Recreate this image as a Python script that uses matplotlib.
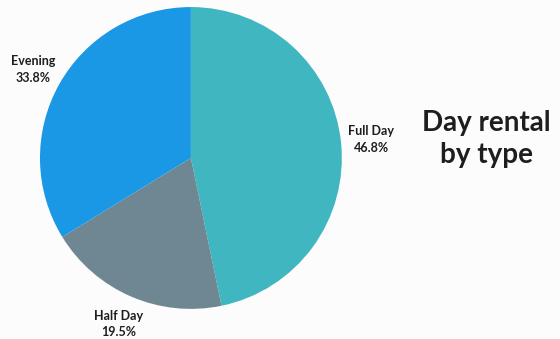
import matplotlib.pyplot as plt

# data
categories = ["Full Day", "Half Day", "Evening"]
shares = [46.8, 19.5, 33.8]
colors = ["#40b6c0", "#6f8793", "#1a98e6"]
title = "Day rental\nby type"

plt.rcParams['font.family'] = ['Lato', 'DejaVu Sans']

fig = plt.figure(figsize=(5.6, 3.39), dpi=100)
fig.patch.set_facecolor('#fbfcfb')

ax = fig.add_axes([0.0714, 0.0885, 0.539, 0.891])
labels = [f"{c}\n{v:.1f}%" for c, v in zip(categories, shares)]
wedges, texts = ax.pie(shares, labels=labels, colors=colors, startangle=90,
                       counterclock=False, labeldistance=1.2,
                       textprops=dict(fontsize=9, fontweight='bold', color='#1e1e1e',
                                      linespacing=1.45))
for t in texts:
    t.set_horizontalalignment('center')
    t.set_clip_on(False)
ax.set_xlim(-1, 1)
ax.set_ylim(-1, 1)
ax.set_aspect('equal')

fig.text(0.868, 0.59, title, ha='center', va='center', fontsize=20,
         fontweight='bold', color='#1e1e1e', linespacing=1.25)

fig.savefig('out.png', dpi=100, facecolor=fig.get_facecolor())
